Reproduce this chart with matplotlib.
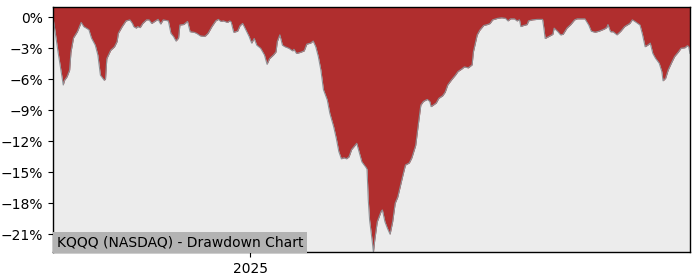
import matplotlib
matplotlib.use("Agg")
import matplotlib.pyplot as plt
import matplotlib.dates as mdates
from matplotlib.ticker import FuncFormatter, MultipleLocator
import pandas as pd

title_text = "KQQQ (NASDAQ) - Drawdown Chart"

dates = [
    "2024-07-31", "2024-08-04", "2024-08-08", "2024-08-09", "2024-08-11", "2024-08-13",
    "2024-08-14", "2024-08-16", "2024-08-19", "2024-08-22", "2024-08-24", "2024-08-28",
    "2024-08-30", "2024-09-02", "2024-09-04", "2024-09-06", "2024-09-09", "2024-09-10",
    "2024-09-11", "2024-09-14", "2024-09-17", "2024-09-19", "2024-09-20", "2024-09-23",
    "2024-09-26", "2024-09-29", "2024-10-01", "2024-10-02", "2024-10-04", "2024-10-05",
    "2024-10-07", "2024-10-09", "2024-10-12", "2024-10-14", "2024-10-16", "2024-10-19",
    "2024-10-21", "2024-10-23", "2024-10-25", "2024-10-29", "2024-10-31", "2024-11-02",
    "2024-11-04", "2024-11-06", "2024-11-07", "2024-11-10", "2024-11-13", "2024-11-15",
    "2024-11-18", "2024-11-20", "2024-11-23", "2024-11-26", "2024-11-27", "2024-11-29",
    "2024-12-02", "2024-12-05", "2024-12-07", "2024-12-09", "2024-12-11", "2024-12-14",
    "2024-12-16", "2024-12-17", "2024-12-19", "2024-12-22", "2024-12-24", "2024-12-26",
    "2024-12-28", "2024-12-31", "2025-01-02", "2025-01-04", "2025-01-06", "2025-01-09",
    "2025-01-12", "2025-01-14", "2025-01-16", "2025-01-19", "2025-01-21", "2025-01-22",
    "2025-01-24", "2025-01-26", "2025-01-28", "2025-01-31", "2025-02-03", "2025-02-04",
    "2025-02-06", "2025-02-09", "2025-02-12", "2025-02-14", "2025-02-17", "2025-02-19",
    "2025-02-21", "2025-02-23", "2025-02-25", "2025-02-27", "2025-03-02", "2025-03-04",
    "2025-03-07", "2025-03-09", "2025-03-11", "2025-03-13", "2025-03-15", "2025-03-17",
    "2025-03-19", "2025-03-21", "2025-03-25", "2025-03-27", "2025-03-29", "2025-04-01",
    "2025-04-02", "2025-04-03", "2025-04-04", "2025-04-05", "2025-04-06", "2025-04-07",
    "2025-04-08", "2025-04-10", "2025-04-13", "2025-04-14", "2025-04-16", "2025-04-18",
    "2025-04-20", "2025-04-22", "2025-04-24", "2025-04-26", "2025-04-30", "2025-05-02",
    "2025-05-05", "2025-05-07", "2025-05-10", "2025-05-12", "2025-05-14", "2025-05-16",
    "2025-05-19", "2025-05-21", "2025-05-22", "2025-05-26", "2025-05-28", "2025-05-31",
    "2025-06-02", "2025-06-04", "2025-06-07", "2025-06-10", "2025-06-12", "2025-06-15",
    "2025-06-17", "2025-06-20", "2025-06-23", "2025-06-24", "2025-06-27", "2025-06-29",
    "2025-07-02", "2025-07-05", "2025-07-07", "2025-07-09", "2025-07-13", "2025-07-16",
    "2025-07-19", "2025-07-21", "2025-07-23", "2025-07-26", "2025-07-28", "2025-07-30",
    "2025-07-31", "2025-08-02", "2025-08-05", "2025-08-06", "2025-08-09", "2025-08-13",
    "2025-08-17", "2025-08-18", "2025-08-19", "2025-08-22", "2025-08-25", "2025-08-26",
    "2025-08-29", "2025-08-31", "2025-09-02", "2025-09-05", "2025-09-08", "2025-09-11",
    "2025-09-13", "2025-09-16", "2025-09-19", "2025-09-22", "2025-09-24", "2025-09-27",
    "2025-09-30", "2025-10-04", "2025-10-06", "2025-10-07", "2025-10-09", "2025-10-11",
    "2025-10-14", "2025-10-17", "2025-10-20", "2025-10-24", "2025-10-26", "2025-10-28",
    "2025-11-01", "2025-11-03", "2025-11-05", "2025-11-07", "2025-11-09", "2025-11-11",
    "2025-11-13", "2025-11-16", "2025-11-18", "2025-11-19", "2025-11-21", "2025-11-23",
    "2025-11-26", "2025-11-28", "2025-12-01", "2025-12-03", "2025-12-06", "2025-12-08",
    "2025-12-09", "2025-12-10",
]

drawdown_pct = [
    0.0, -3.4, -6.55, -6.1, -5.75, -5.1,
    -3.4, -2.0, -1.4, -0.5, -0.9, -1.2,
    -2.0, -2.7, -3.65, -5.6, -6.1, -5.95,
    -4.0, -3.2, -2.85, -2.35, -1.55, -0.9,
    -0.35, -0.25, -0.6, -0.9, -1.05, -0.9,
    -1.0, -0.6, -0.25, -0.25, -0.6, -0.35,
    -0.2, -0.65, -0.25, -0.35, -1.55, -1.85,
    -2.3, -2.0, -0.75, -0.7, -0.4, -1.4,
    -1.45, -1.55, -1.8, -1.85, -1.8, -1.55,
    -0.9, -0.35, -0.2, -0.4, -0.35, -0.5,
    -0.35, -0.45, -1.45, -1.35, -0.8, -0.6,
    -1.1, -1.85, -2.5, -2.05, -2.7, -3.0,
    -3.65, -4.55, -4.0, -3.65, -3.35, -2.35,
    -1.7, -2.7, -2.85, -3.0, -3.25, -3.1,
    -3.5, -3.4, -3.25, -2.6, -2.5, -2.3,
    -2.85, -3.8, -5.1, -7.0, -8.0, -9.3,
    -10.6, -11.7, -13.0, -13.7, -13.6, -13.7,
    -13.5, -12.8, -12.2, -13.1, -14.0, -14.5,
    -14.7, -17.7, -19.6, -20.6, -21.6, -22.75,
    -21.6, -19.8, -18.8, -18.65, -19.8, -20.45,
    -21.0, -19.8, -18.0, -17.4, -15.3, -14.3,
    -14.1, -13.6, -12.4, -10.4, -8.5, -8.15,
    -7.95, -8.15, -8.65, -8.3, -7.85, -7.6,
    -7.25, -6.55, -6.05, -5.6, -5.25, -5.0,
    -4.8, -4.9, -4.6, -3.35, -1.7, -1.25,
    -0.8, -0.7, -0.6, -0.25, -0.1, -0.05,
    -0.1, -0.35, -0.15, -0.15, -0.35, -0.25,
    -0.9, -0.8, -0.7, -0.35, -0.25, -0.2,
    -0.2, -1.05, -2.05, -1.85, -1.65, -1.05,
    -1.4, -1.7, -1.65, -1.05, -0.7, -0.25,
    -0.15, -0.15, -0.15, -0.75, -1.35, -1.45,
    -1.35, -1.15, -1.0, -0.7, -1.4, -1.4,
    -1.7, -1.35, -0.9, -0.6, -0.25, -0.4,
    -0.75, -1.7, -2.85, -2.7, -2.5, -3.5,
    -3.95, -4.45, -5.25, -6.15, -5.9, -5.1,
    -4.3, -3.8, -3.35, -3.0, -2.95, -2.75,
    -2.85, -3.5,
]

y_ticks = [0, -3, -6, -9, -12, -15, -18, -21]

x = pd.to_datetime(dates)
y_top = 0.97
y_bottom = min(drawdown_pct)

fig = plt.figure(figsize=(7.0, 2.8), dpi=100)
ax = fig.add_axes([0.0757, 0.099, 0.91, 0.875])
ax.set_facecolor("#ececec")

ax.fill_between(x, drawdown_pct, y_top, color="#b02e2e", linewidth=0)
ax.plot(x, drawdown_pct, color="#8f9196", linewidth=0.8)

ax.set_xlim(x[0], x[-1])
ax.set_ylim(y_bottom, y_top)

ax.set_yticks(y_ticks)
ax.yaxis.set_major_formatter(FuncFormatter(lambda v, p: f"{v:.0f}%".replace("-", "\u2212")))
ax.xaxis.set_major_locator(mdates.YearLocator())
ax.xaxis.set_major_formatter(mdates.DateFormatter("%Y"))
ax.tick_params(labelsize=10)

for s in ax.spines.values():
    s.set_linewidth(1.0)
    s.set_color("black")

ax.text(0.006, 0.012, title_text, transform=ax.transAxes, fontsize=10,
        ha="left", va="bottom",
        bbox=dict(facecolor="#b3b3b3", edgecolor="none", pad=2.5))

fig.savefig("out.png", dpi=100)
